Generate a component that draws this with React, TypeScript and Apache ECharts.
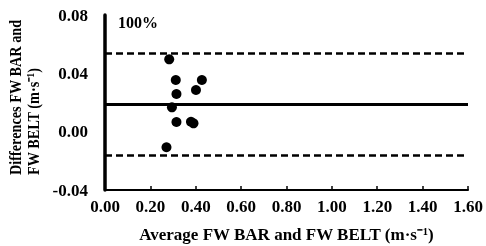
import React, { useEffect, useRef } from "react";
import * as echarts from "echarts";

const avgValues = [0.283, 0.312, 0.427, 0.315, 0.401, 0.295, 0.315, 0.379, 0.39, 0.271];
const diffValues = [0.0496, 0.0354, 0.0354, 0.0258, 0.0286, 0.0167, 0.0066, 0.0068, 0.0057, -0.0107];
const meanDiff = 0.0185;
const upperLimit = 0.0535;
const lowerLimit = -0.016;
const xTicks = [0, 0.2, 0.4, 0.6, 0.8, 1.0, 1.2, 1.4, 1.6];
const yTicks = [-0.04, 0, 0.04, 0.08];
const xTitle = "Average FW BAR and FW BELT (m·s⁻¹)";
const yTitle = "Differences FW BAR and\nFW BELT (m·s⁻¹)";
const cornerNote = "100%";

const FONT = "'Liberation Serif', 'Times New Roman', serif";

export default function App() {
  const ref = useRef<HTMLDivElement>(null);
  useEffect(() => {
    if (!ref.current) return;
    const chart = echarts.init(ref.current, undefined, { renderer: "svg" });
    const points = avgValues.map((x, i) => [x, diffValues[i]]);
    chart.setOption({
      animation: false,
      grid: { left: 105, right: 18, top: 15, bottom: 56, outerBoundsMode: "none", containLabel: false },
      xAxis: {
        type: "value",
        min: xTicks[0],
        max: xTicks[xTicks.length - 1],
        interval: 0.2,
        name: xTitle,
        nameLocation: "middle",
        nameGap: 36,
        nameTextStyle: { fontFamily: FONT, fontWeight: "bold", fontSize: 17, color: "#000" },
        axisLine: { onZero: false, lineStyle: { color: "#000", width: 2 } },
        axisTick: { inside: true, length: 4, lineStyle: { color: "#000", width: 1.5 } },
        axisLabel: {
          fontFamily: FONT, fontWeight: "bold", fontSize: 17, color: "#000", margin: 8,
          formatter: (v: number) => v.toFixed(2),
        },
        splitLine: { show: false },
      },
      yAxis: {
        type: "value",
        min: yTicks[0],
        max: yTicks[yTicks.length - 1],
        interval: 0.04,
        axisLine: { onZero: false, lineStyle: { color: "#000", width: 3.5 } },
        axisTick: { show: false },
        axisLabel: {
          fontFamily: FONT, fontWeight: "bold", fontSize: 17, color: "#000", margin: 17,
          formatter: (v: number) => v.toFixed(2),
        },
        splitLine: { show: false },
      },
      graphic: [
        {
          type: "text",
          left: 118,
          top: 14,
          style: { text: cornerNote, font: `bold 16px ${FONT}`, fill: "#000" },
        },
        {
          type: "text",
          x: 24,
          y: 175,
          rotation: Math.PI / 2,
          scaleX: 0.84,
          style: {
            text: yTitle,
            font: `bold 17px ${FONT}`,
            fill: "#000",
            align: "left",
            verticalAlign: "middle",
            lineHeight: 18,
          },
        },
      ],
      series: [
        {
          type: "scatter",
          data: points,
          symbolSize: 10,
          itemStyle: { color: "#000", opacity: 1 },
          markLine: {
            silent: true,
            symbol: "none",
            precision: 4,
            label: { show: false },
            data: [
              { yAxis: meanDiff, lineStyle: { type: "solid", width: 3, color: "#000" } },
              { yAxis: upperLimit, lineStyle: { type: [7, 4], width: 2.5, color: "#000" } },
              { yAxis: lowerLimit, lineStyle: { type: [7, 4], width: 2.5, color: "#000" } },
            ],
          },
        },
      ],
    });
    return () => chart.dispose();
  }, []);
  return (
    <div
      ref={ref}
      style={{ position: "fixed", left: 0, top: 0, width: 486, height: 246 }}
    />
  );
}
